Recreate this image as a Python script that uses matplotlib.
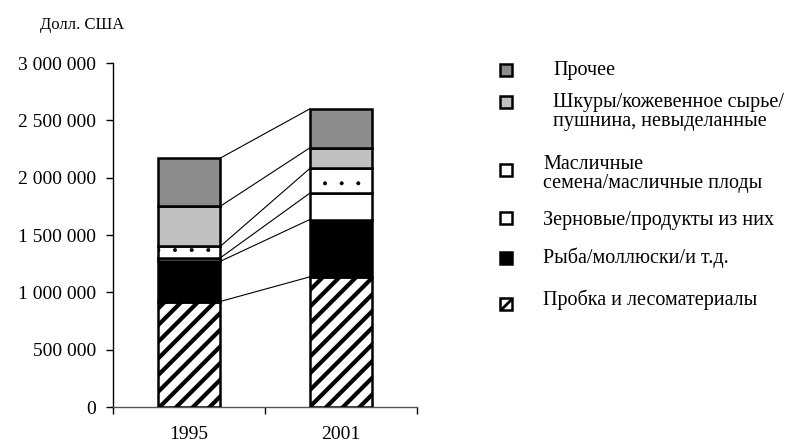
import matplotlib
matplotlib.use("Agg")
import matplotlib.pyplot as plt
from matplotlib.patches import Rectangle
import numpy as np

plt.rcParams['font.family'] = ['Liberation Serif', 'DejaVu Serif']

years = ["1995", "2001"]
series_names = [
    "Пробка и лесоматериалы",
    "Рыба/моллюски/и т.д.",
    "Зерновые/продукты из них",
    "Масличные\nсемена/масличные плоды",
    "Шкуры/кожевенное сырье/\nпушнина, невыделанные",
    "Прочее",
]
cork = [920000, 1135000]
fish = [350000, 500000]
grain = [30000, 230000]
oilseeds = [100000, 215000]
hides = [350000, 180000]
other = [420000, 340000]
series = [cork, fish, grain, oilseeds, hides, other]

yticks = [0, 500000, 1000000, 1500000, 2000000, 2500000, 3000000]
ytick_labels = ["0", "500 000", "1 000 000", "1 500 000", "2 000 000", "2 500 000", "3 000 000"]

colors = ["white", "black", "white", "white", "#c0c0c0", "#8c8c8c"]
hatches = ["//", None, None, ".", None, None]
hatch_lws = [3.0, 1.0, 1.0, 0.4, 1.0, 1.0]

fig = plt.figure(figsize=(7.95, 4.46), dpi=100)
ax = fig.add_axes([113/795, 1 - 407/446, (417-113)/795, (407-63)/446])

x = np.arange(len(years))
w = 0.41
bottom = np.zeros(len(years))
tops = []
for i, vals in enumerate(series):
    vals = np.array(vals, dtype=float)
    with plt.rc_context({'hatch.linewidth': hatch_lws[i]}):
        ax.bar(x, vals, w, bottom=bottom, color=colors[i], edgecolor="black",
               linewidth=1.8, hatch=hatches[i], zorder=3)
    bottom = bottom + vals
    tops.append(bottom.copy())

for t in tops:
    ax.plot([x[0] + w/2, x[1] - w/2], [t[0], t[1]], color="black", lw=0.8, zorder=2)

ax.set_xlim(-0.5, 1.5)
ax.set_ylim(0, 3000000)
ax.set_yticks(yticks)
ax.set_yticklabels(ytick_labels, fontsize=14)
ax.set_xticks([-0.5, 0.5, 1.5])
ax.set_xticklabels([])
ax.set_xticks(x, minor=True)
ax.set_xticklabels(years, minor=True, fontsize=14)
ax.tick_params(axis='x', which='minor', length=0, pad=14)
ax.tick_params(axis='x', which='major', length=5, width=1, direction='out')
ax.tick_params(axis='y', length=5, width=1, direction='out', pad=7)
for s in ["top", "right"]:
    ax.spines[s].set_visible(False)
ax.spines["left"].set_linewidth(1.0)
ax.spines["bottom"].set_linewidth(1.0)
ax.spines["bottom"].set_color("#555555")

fig.text(40/795, 1 - 25/446, "Долл. США", fontsize=12, va="center", ha="left")

# legend (top to bottom)
leg_order = [5, 4, 3, 2, 1, 0]
marker_y = [70, 102, 170, 218, 258, 304]
text_y = [70, 112, 174, 220, 258, 300]
text_x = [553, 553, 543, 543, 543, 543]
for k, idx in enumerate(leg_order):
    my = marker_y[k]
    with plt.rc_context({'hatch.linewidth': 2.0}):
        r = Rectangle((500/795, 1 - (my + 6)/446), 12/795, 12/446,
                      transform=fig.transFigure, facecolor=colors[idx],
                      edgecolor="black", linewidth=1.8,
                      hatch="///" if idx == 0 else None)
    fig.add_artist(r)
    fig.text(text_x[k]/795, 1 - text_y[k]/446, series_names[idx], fontsize=14.5,
             va="center", ha="left", linespacing=0.95)

fig.savefig("out.png", dpi=100)
